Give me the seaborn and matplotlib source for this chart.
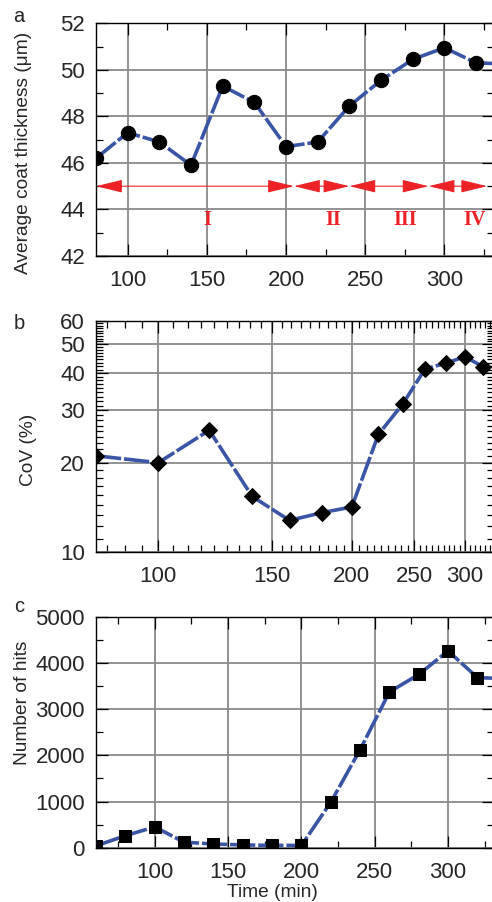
import matplotlib
matplotlib.use("Agg")
import matplotlib.pyplot as plt
import seaborn as sns
from matplotlib.ticker import MultipleLocator, FixedLocator, FormatStrFormatter, NullFormatter

# panel a: average coat thickness
time_a = [80, 100, 120, 140, 160, 180, 200, 220, 240, 260, 280, 300, 320, 340]
thickness = [46.2, 47.3, 46.9, 45.9, 49.3, 48.6, 46.7, 46.9, 48.45, 49.55, 50.45, 50.95, 50.3, 50.25]

# stages shown by the red arrows in panel a
stage_edges = [80, 205, 240, 290, 327]
stage_names = ["I", "II", "III", "IV"]
stage_label_x = [150, 230, 275, 319]

# panel b: coefficient of variation
time_b = [80, 100, 120, 140, 160, 180, 200, 220, 240, 260, 280, 300, 320]
cov = [21.1, 20.0, 25.7, 15.4, 12.8, 13.6, 14.2, 24.9, 31.5, 41.3, 43.2, 45.4, 42.0]

# panel c: number of hits
time_c = [60, 80, 100, 120, 140, 160, 180, 200, 220, 240, 260, 280, 300, 320, 340]
hits = [40, 260, 450, 120, 80, 60, 50, 50, 980, 2120, 3370, 3750, 4260, 3680, 3660]

BLUE = "#3a55a6"
RED = "#ec2227"
GRID = "#8a8a8a"

sns.set_style("ticks")
plt.rcParams["font.family"] = ["Liberation Sans", "DejaVu Sans"]
plt.rcParams["xtick.direction"] = "in"
plt.rcParams["ytick.direction"] = "in"

W, H = 492, 902
fig = plt.figure(figsize=(W / 100, H / 100), dpi=100)


def make_axes(top_px, bottom_px):
    ax = fig.add_axes([96 / W, 1 - bottom_px / H, (494 - 96) / W, (bottom_px - top_px) / H])
    return ax


def style_axes(ax):
    ax.set_axisbelow(True)
    ax.grid(True, which="major", color=GRID, lw=1.3)
    ax.tick_params(which="both", top=True, right=True, color="black", width=0.9)
    ax.tick_params(which="major", length=8.5, labelsize=16)
    ax.tick_params(which="minor", length=5)
    ax.tick_params(axis="x", pad=10)
    ax.tick_params(axis="y", pad=8)
    for s in ax.spines.values():
        s.set_color("black")
        s.set_linewidth(1.0)


dash = (0, (7, 0.8))

# ---- panel a
ax1 = make_axes(23.3, 256)
sns.lineplot(x=time_a, y=thickness, ax=ax1, color=BLUE, lw=2.6, linestyle=dash,
             marker="o", markersize=10.3, markerfacecolor="black", markeredgecolor="black",
             estimator=None, sort=False)
ax1.set_xlim(80, 331.3)
ax1.set_ylim(42, 52)
ax1.xaxis.set_major_locator(MultipleLocator(50))
ax1.xaxis.set_minor_locator(MultipleLocator(25))
ax1.yaxis.set_major_locator(MultipleLocator(2))
ax1.yaxis.set_minor_locator(MultipleLocator(1))
style_axes(ax1)
ax1.set_ylabel("Average coat thickness (\u03bcm)", fontsize=13.8)
ax1.yaxis.set_label_coords(-0.160, 0.445)

for x0, x1 in zip(stage_edges[:-1], stage_edges[1:]):
    ax1.annotate("", xy=(x1, 45), xytext=(x0, 45),
                 arrowprops=dict(arrowstyle="<|-|>,head_length=1.65,head_width=0.4",
                                 color=RED, lw=0.8, shrinkA=0, shrinkB=0, mutation_scale=10))
for name, xl in zip(stage_names, stage_label_x):
    ax1.text(xl, 43.55, name, color=RED, fontweight="bold", family="Liberation Serif",
             fontsize=14.5, ha="center", va="center")

# ---- panel b
ax2 = make_axes(320.7, 552.3)
sns.lineplot(x=time_b, y=cov, ax=ax2, color=BLUE, lw=2.6, linestyle=dash,
             marker="D", markersize=8.0, markerfacecolor="black", markeredgecolor="black",
             estimator=None, sort=False)
ax2.set_xscale("log")
ax2.set_yscale("log")
ax2.set_xlim(80, 332.8)
ax2.set_ylim(10, 60)
ax2.xaxis.set_major_locator(FixedLocator([100, 150, 200, 250, 300]))
ax2.xaxis.set_minor_locator(MultipleLocator(50 / 9))
ax2.yaxis.set_major_locator(FixedLocator([10, 20, 30, 40, 50, 60]))
ax2.yaxis.set_minor_locator(MultipleLocator(10 / 9))
for axis in (ax2.xaxis, ax2.yaxis):
    axis.set_major_formatter(FormatStrFormatter("%d"))
    axis.set_minor_formatter(NullFormatter())
style_axes(ax2)
ax2.set_ylabel("CoV (%)", fontsize=13.8)
ax2.yaxis.set_label_coords(-0.149, 0.444)

# ---- panel c
ax3 = make_axes(616.7, 847.7)
sns.lineplot(x=time_c, y=hits, ax=ax3, color=BLUE, lw=2.6, linestyle=dash,
             marker="s", markersize=8.6, markerfacecolor="black", markeredgecolor="black",
             estimator=None, sort=False)
ax3.set_xlim(60, 331.3)
ax3.set_ylim(0, 5000)
ax3.xaxis.set_major_locator(MultipleLocator(50))
ax3.xaxis.set_minor_locator(MultipleLocator(25))
ax3.yaxis.set_major_locator(MultipleLocator(1000))
ax3.yaxis.set_minor_locator(MultipleLocator(500))
style_axes(ax3)
ax3.set_ylabel("Number of hits", fontsize=13.8)
ax3.yaxis.set_label_coords(-0.163, 0.629)
ax3.set_xlabel("Time (min)", fontsize=13.8)
ax3.xaxis.set_label_coords(0.444, -0.156)

for letter, ypx in zip(["a", "b", "c"], [17, 324, 607]):
    fig.text(19 / W, 1 - ypx / H, letter, ha="center", va="center", fontsize=14.5)

fig.savefig("out.png", dpi=100)
